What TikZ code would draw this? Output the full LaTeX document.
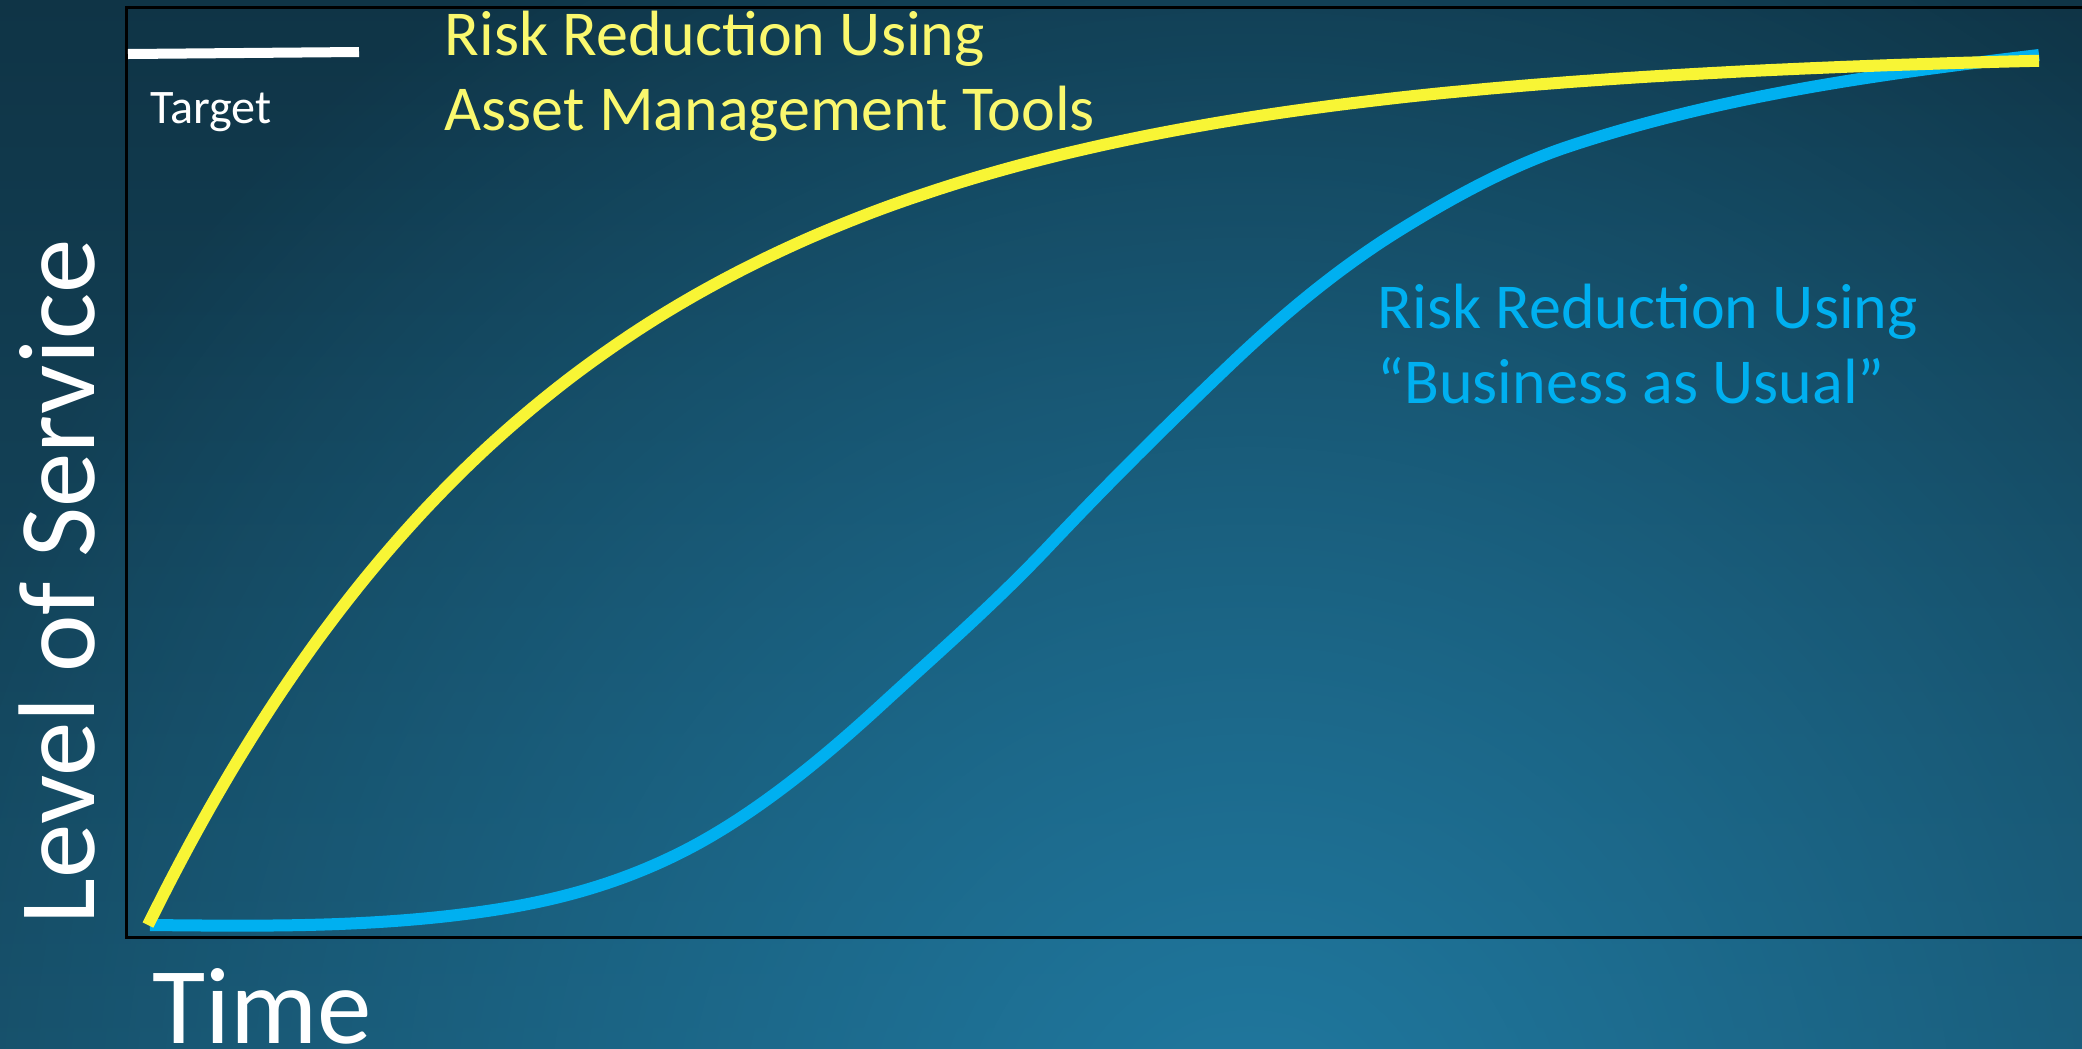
\documentclass[tikz,border=0pt]{standalone}
\usepackage{fontspec}
\setmainfont{Carlito}
\usetikzlibrary{fadings}
\definecolor{bgtop}{HTML}{0F3446}
\definecolor{bgbottom}{HTML}{164D66}
\definecolor{bglight}{HTML}{2079A0}
\definecolor{amyellow}{HTML}{F8F535}
\definecolor{amtext}{HTML}{FAF86E}
\definecolor{busblue}{HTML}{00B0F0}
\tikzfading[name=glow,inner color=transparent!0,outer color=transparent!100]

\begin{document}
\begin{tikzpicture}
  [x=0.01cm,y=-0.01cm,
   riskline/.style={line width=0.12cm,line cap=butt,line join=round},
   txt/.style={inner sep=0pt,anchor=base west},
   axistxt/.style={txt,text=white,font=\fontsize{31}{37}\selectfont},
   keytxt/.style={txt,font=\fontsize{18.2}{21.3}\selectfont}]
  \useasboundingbox (0,0) rectangle (2082,1048);

  % background
  \shade[top color=bgtop,bottom color=bgbottom] (0,0) rectangle (2082,1048);
  \begin{scope}
    \clip (0,0) rectangle (2082,1048);
    \fill[bglight,path fading=glow] (1250,1150) circle (14cm);
  \end{scope}

  % frame (right side runs off the page)
  \coordinate (fTR) at (2100,7);
  \coordinate (fTL) at (126,7);
  \coordinate (fBL) at (126,937);
  \coordinate (fBR) at (2100,937);
  \draw[black,line width=0.03cm] (fTR) -- (fTL) -- (fBL) -- (fBR);

  % target key
  \coordinate (tgtA) at (128,54);
  \coordinate (tgtB) at (359,52);
  \draw[white,line width=0.1cm] (tgtA) -- (tgtB);
  \node[txt,text=white,font=\fontsize{13.7}{16}\selectfont] (target) at (150,123) {Target};

  % business as usual
  \draw[riskline,busblue] (150,925)
    .. controls (266.7,926.2) and (383.3,927.7) .. (500,909)
    .. controls (560,899.4) and (620,883) .. (680,853)
    .. controls (746.7,819.7) and (813.3,767.3) .. (880,706)
    .. controls (936.7,653.9) and (993.3,605.1) .. (1050,545)
    .. controls (1111,480.3) and (1172,420) .. (1233,362)
    .. controls (1288.7,309.1) and (1344.3,264.5) .. (1400,230)
    .. controls (1456.7,194.9) and (1513.3,164.7) .. (1570,146)
    .. controls (1726.3,94.4) and (1882.7,73.8) .. (2039,55);

  % asset management tools
  \draw[riskline,amyellow] plot[smooth,domain=148:2039,samples=90,variable=\t]
    (\t,{50+875*exp(-(\t-148)/430)});

  % labels
  \node[keytxt,text=amtext] (amA) at (444,55) {Risk Reduction Using};
  \node[keytxt,text=amtext] (amB) at (444,130) {Asset Management Tools};
  \node[keytxt,text=busblue] (bauA) at (1377,328) {Risk Reduction Using};
  \node[keytxt,text=busblue] (bauB) at (1377,403) {“Business as Usual”};

  \node[axistxt] (time) at (152,1043) {Time};
  \node[axistxt,rotate=90] (los) at (94,925) {Level of Service};
\end{tikzpicture}
\end{document}
